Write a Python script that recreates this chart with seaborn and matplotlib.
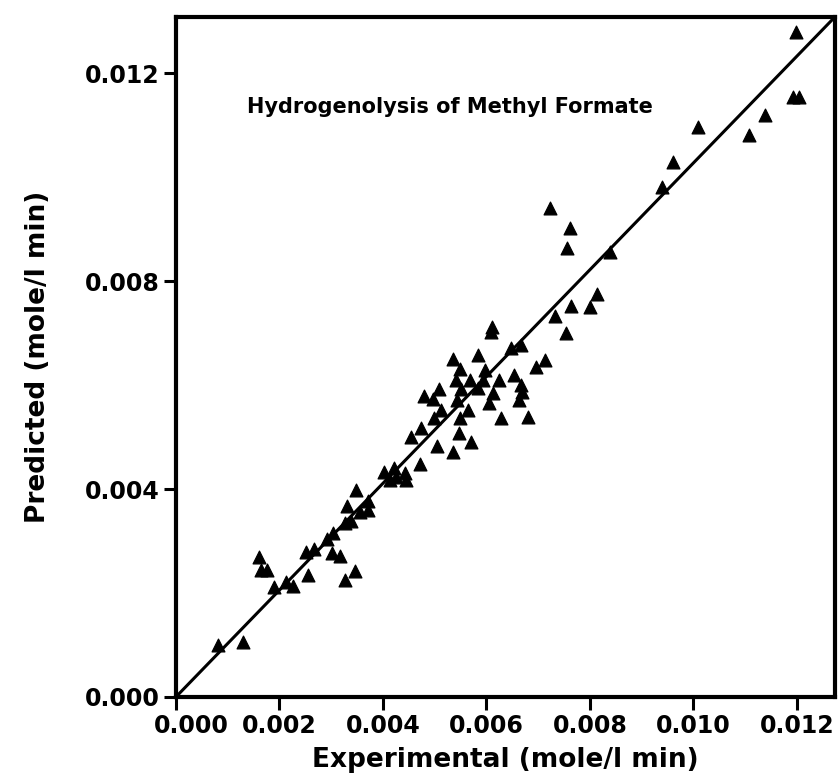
import numpy as np
import pandas as pd
import seaborn as sns
import matplotlib
matplotlib.use("Agg")
import matplotlib.pyplot as plt

# experimental vs predicted rates (mole/l min)
experimental = [
    0.00082, 0.00130, 0.00160, 0.00165, 0.00175, 0.00190, 0.00212, 0.00227,
    0.00251, 0.00267, 0.00256, 0.00291, 0.00304, 0.00301, 0.00317, 0.00326,
    0.00346, 0.00331, 0.00347, 0.00326, 0.00339, 0.00355, 0.00371, 0.00371,
    0.00403, 0.00413, 0.00426, 0.00445, 0.00443, 0.00422, 0.00471, 0.00454,
    0.00474, 0.00499, 0.00504, 0.00536, 0.00547, 0.00571, 0.00549, 0.00512,
    0.00543, 0.00565, 0.00479, 0.00496, 0.00509, 0.00541, 0.00551, 0.00568,
    0.00535, 0.00549, 0.00584, 0.00583, 0.00597, 0.00594, 0.00605, 0.00613,
    0.00624, 0.00628, 0.00608, 0.00610, 0.00647, 0.00666, 0.00653, 0.00666,
    0.00669, 0.00663, 0.00680, 0.00695, 0.00714, 0.00733, 0.00754, 0.00764,
    0.00722, 0.00762, 0.00756, 0.00839, 0.00813, 0.00801, 0.00940, 0.00960,
    0.01009, 0.01108, 0.01138, 0.01192, 0.01204, 0.01198,
]
predicted = [
    0.00100, 0.00105, 0.00270, 0.00245, 0.00244, 0.00212, 0.00222, 0.00214,
    0.00279, 0.00285, 0.00235, 0.00303, 0.00315, 0.00276, 0.00271, 0.00225,
    0.00242, 0.00367, 0.00398, 0.00334, 0.00338, 0.00356, 0.00360, 0.00376,
    0.00433, 0.00417, 0.00424, 0.00417, 0.00430, 0.00440, 0.00449, 0.00501,
    0.00517, 0.00536, 0.00483, 0.00472, 0.00507, 0.00491, 0.00536, 0.00552,
    0.00571, 0.00552, 0.00579, 0.00573, 0.00593, 0.00610, 0.00593, 0.00610,
    0.00651, 0.00631, 0.00658, 0.00594, 0.00629, 0.00610, 0.00565, 0.00584,
    0.00610, 0.00537, 0.00703, 0.00712, 0.00671, 0.00677, 0.00619, 0.00600,
    0.00587, 0.00571, 0.00539, 0.00635, 0.00648, 0.00733, 0.00701, 0.00752,
    0.00940, 0.00903, 0.00863, 0.00856, 0.00776, 0.00751, 0.00981, 0.01030,
    0.01097, 0.01081, 0.01119, 0.01154, 0.01154, 0.01279,
]

# parity line
line_x = [0.0, 0.01273]
line_y = [0.0, 0.01308]

tick_vals = [0.000, 0.002, 0.004, 0.006, 0.008, 0.010, 0.012]
ytick_vals = [0.000, 0.004, 0.008, 0.012]

df = pd.DataFrame({"Experimental": experimental, "Predicted": predicted})

sns.set_style("ticks")
plt.rcParams["font.family"] = ["DejaVu Sans"]
plt.rcParams["font.weight"] = "bold"
plt.rcParams["text.color"] = "black"
plt.rcParams["axes.labelcolor"] = "black"
plt.rcParams["xtick.color"] = "black"
plt.rcParams["ytick.color"] = "black"

fig = plt.figure(figsize=(8.38, 7.83), dpi=100)
ax = fig.add_axes([0.210, 0.110, 0.786, 0.868])

ax.plot(line_x, line_y, color="black", linewidth=2.2, zorder=2)
sns.scatterplot(data=df, x="Experimental", y="Predicted", marker="^", s=85,
                color="black", edgecolor="black", linewidth=0.9, ax=ax, zorder=3)

ax.set_xlim(0, 0.01273)
ax.set_ylim(0, 0.01308)
ax.set_xticks(tick_vals)
ax.set_yticks(ytick_vals)
# first x label is drawn separately below (it sits right of its tick)
xlabels = [f"{v:.3f}" for v in tick_vals]
ax.set_xticklabels([""] + xlabels[1:], fontsize=17, fontweight="bold")
ax.set_yticklabels([f"{v:.3f}" for v in ytick_vals], fontsize=17, fontweight="bold")

ax.tick_params(axis="both", direction="out", length=9, width=2.2, color="black", pad=3)
for sp in ax.spines.values():
    sp.set_linewidth(3)
    sp.set_color("black")

ax.annotate(xlabels[0], xy=(tick_vals[0], 0), xycoords=ax.get_xaxis_transform(),
            xytext=(11, -12), textcoords="offset points", ha="center", va="top",
            fontsize=17, fontweight="bold")

ax.set_xlabel("Experimental (mole/l min)", fontsize=19, fontweight="bold", labelpad=7)
ax.set_ylabel("Predicted (mole/l min)", fontsize=19, fontweight="bold", labelpad=24)

ax.text(0.108, 0.868, "Hydrogenolysis of Methyl Formate", transform=ax.transAxes,
        fontsize=15, fontweight="bold", ha="left", va="center")

fig.savefig("out.png", dpi=100)
